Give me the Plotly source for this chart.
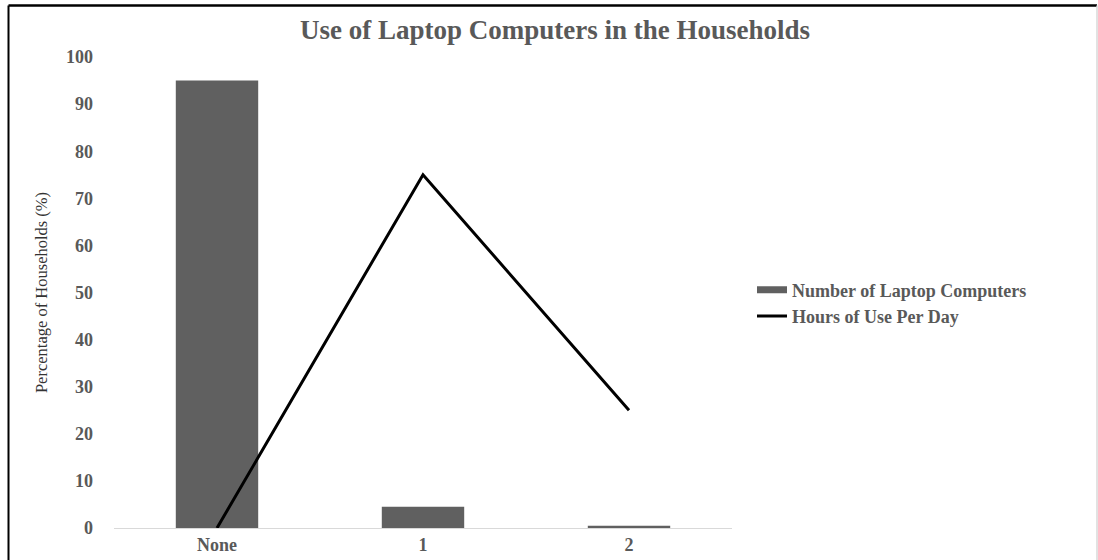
import plotly.graph_objects as go

categories = ["None", "1", "2"]
laptops = [95, 4.5, 0.5]
hours = [0, 75, 25]
y_ticks = [0, 10, 20, 30, 40, 50, 60, 70, 80, 90, 100]

serif = "Liberation Serif"
gray = "#595959"
bar_color = "#606060"

fig = go.Figure()
fig.add_trace(go.Bar(x=categories, y=laptops, name="Number of Laptop Computers",
                     marker=dict(color=bar_color, line=dict(width=0)), width=0.4,
                     showlegend=False))
# legend entry for the bars drawn as a wide block like the original
fig.add_trace(go.Scatter(x=[None], y=[None], name="Number of Laptop Computers", mode="lines",
                         line=dict(color=bar_color, width=7)))
fig.add_trace(go.Scatter(x=categories, y=hours, name="Hours of Use Per Day", mode="lines",
                         line=dict(color="black", width=3)))

L, R, T, B = 114, 366, 57, 32
W, H = 1098, 560
pw, ph = W - L - R, H - T - B

def px(x):
    return (x - L) / pw

def py(y):
    return (H - B - y) / ph

tickfont = dict(family=serif, size=18, color=gray, weight="bold")

fig.update_layout(
    width=W, height=H,
    margin=dict(l=L, r=R, t=T, b=B, autoexpand=False),
    paper_bgcolor="white", plot_bgcolor="white",
    title=dict(text="<b>Use of Laptop Computers in the Households</b>",
               x=px(555), xref="paper", xanchor="center", y=1 - 30 / H, yanchor="middle",
               font=dict(family=serif, size=27, color=gray)),
    font=dict(family=serif, color=gray),
    xaxis=dict(showgrid=False, showline=True, linecolor="#d9d9d9", linewidth=1,
               ticks="", tickfont=tickfont, automargin=False),
    yaxis=dict(range=[0, 100], tickvals=y_ticks, showgrid=False, zeroline=False, showline=False,
               ticks="", ticklabelstandoff=20, tickfont=tickfont, automargin=False,
               title=dict(text="Percentage of Households (%)", standoff=14,
                          font=dict(family=serif, size=16.5, color="#333333"))),
    legend=dict(x=px(752), xanchor="left", y=py(303), yanchor="middle",
                font=dict(family=serif, size=18, color=gray, weight="bold"),
                bgcolor="rgba(0,0,0,0)", itemwidth=30, tracegroupgap=0),
    shapes=[
        dict(type="line", xref="paper", yref="paper", x0=px(8.5), x1=px(8.5), y0=py(5.5), y1=py(570),
             line=dict(color="black", width=2)),
        dict(type="line", xref="paper", yref="paper", x0=px(8.5), x1=px(1097), y0=py(5.5), y1=py(5.5),
             line=dict(color="black", width=2.5)),
        dict(type="line", xref="paper", yref="paper", x0=px(1097), x1=px(1097), y0=py(5.5), y1=py(570),
             line=dict(color="#d9d9d9", width=1.5)),
    ],
)

fig.write_html("out.html")
